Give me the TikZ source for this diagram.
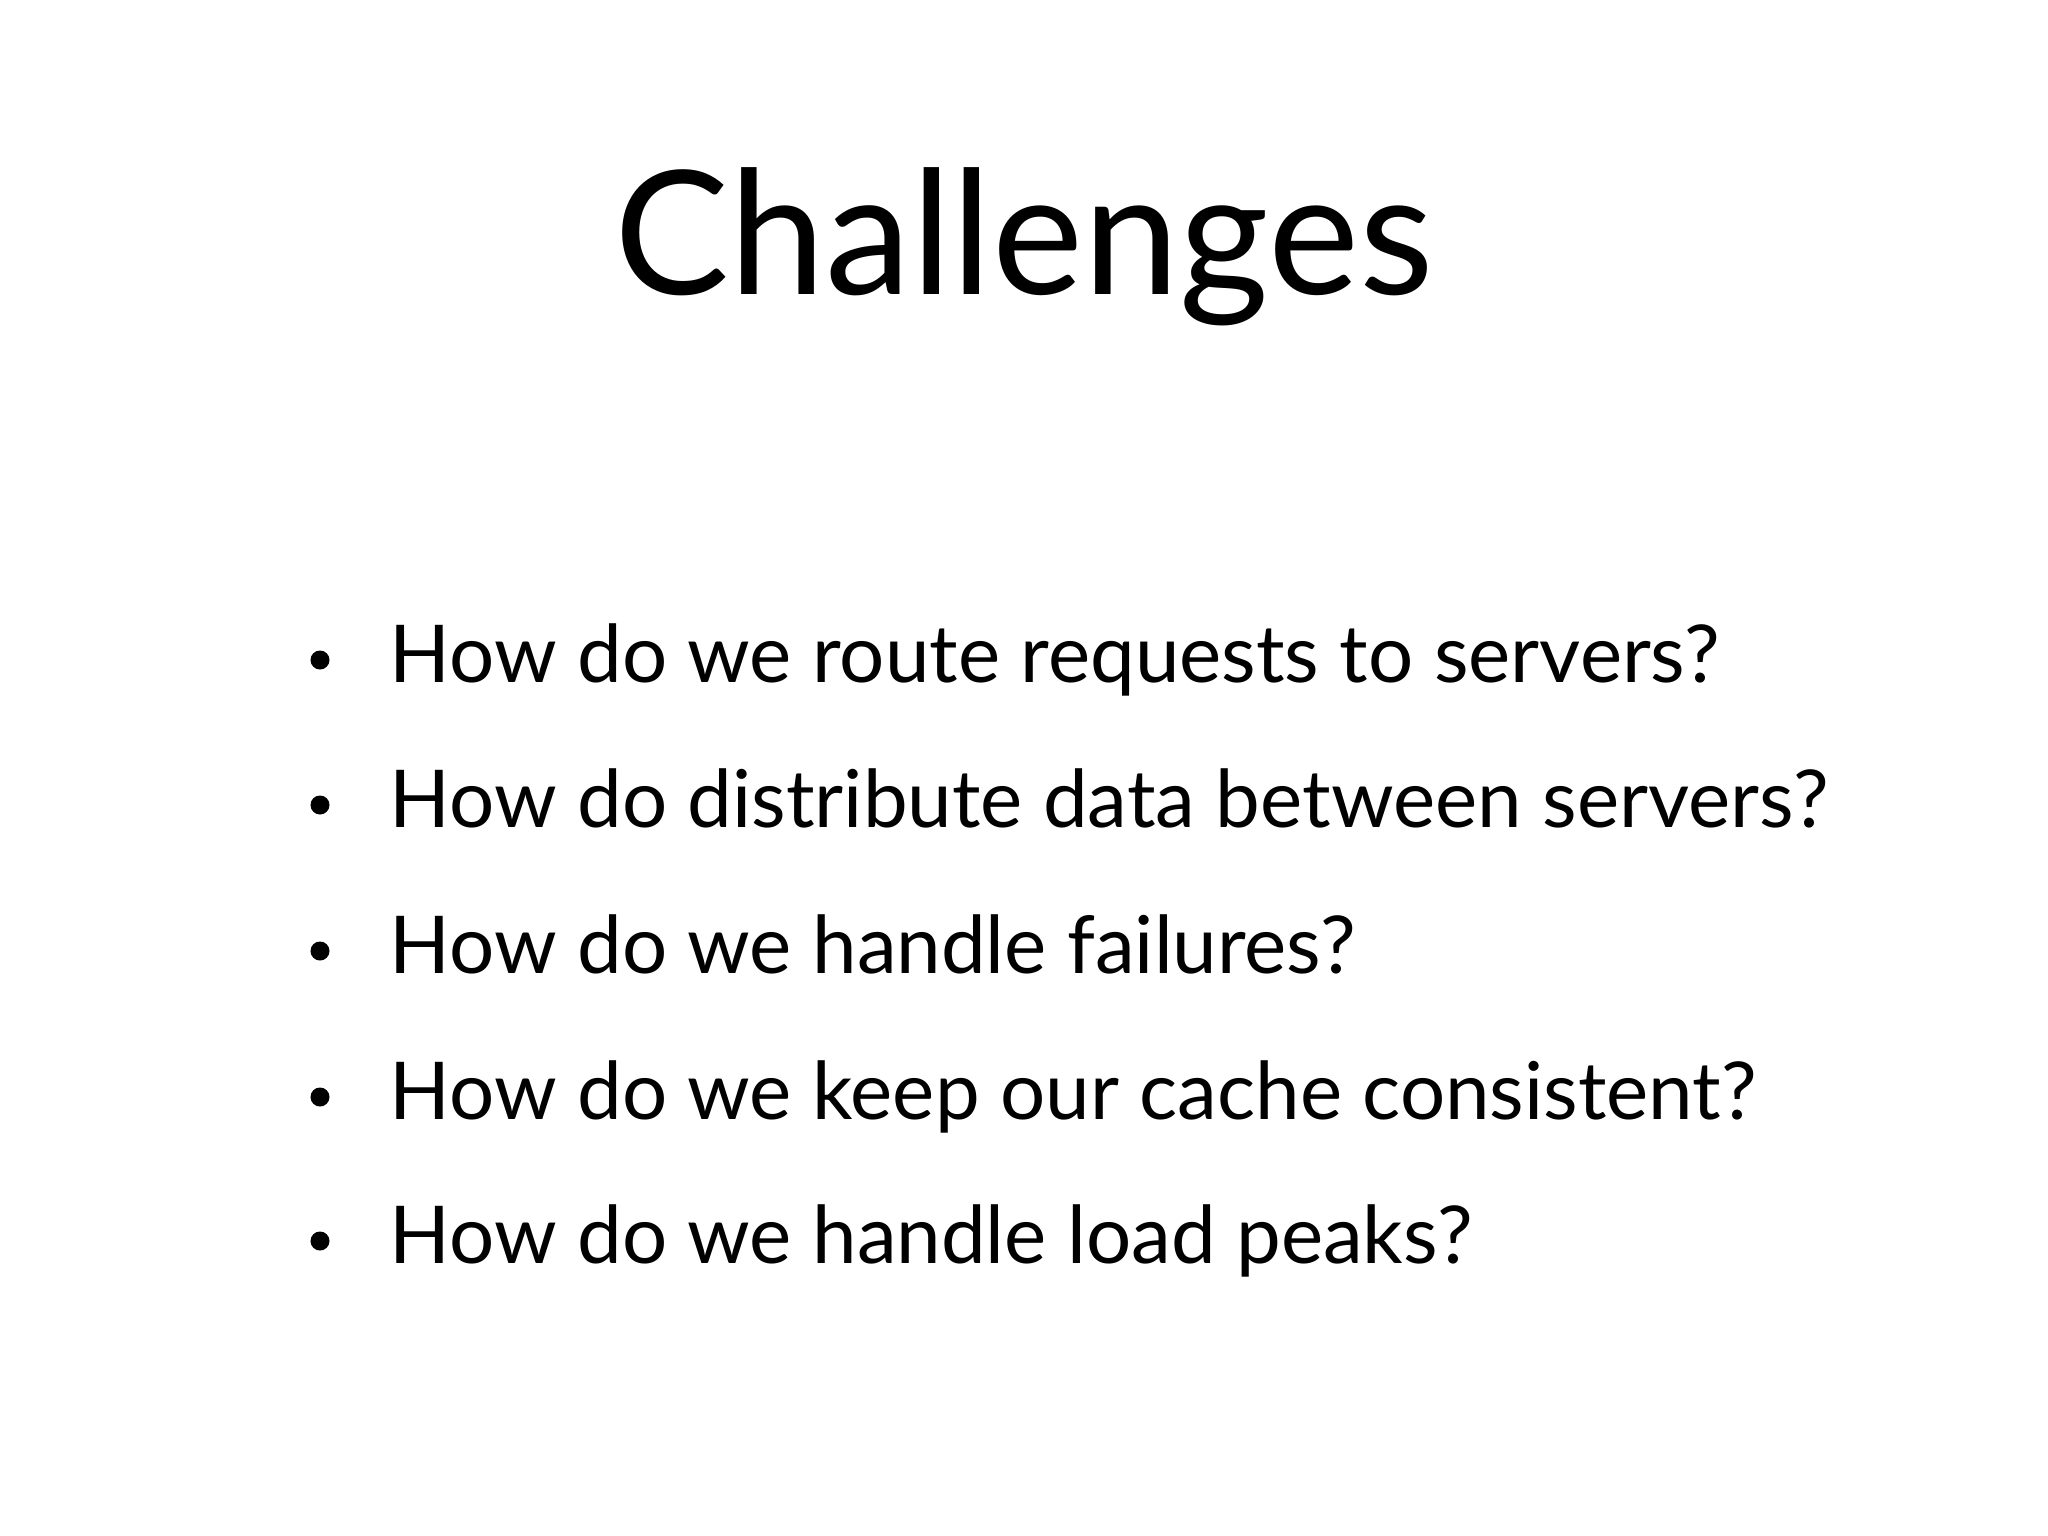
\documentclass[tikz,border=0pt]{standalone}
\usepackage{fontspec}
\setmainfont{Lato}
\begin{document}
\begin{tikzpicture}[x=0.01cm,y=-0.01cm,
  item/.style={anchor=base west,inner sep=0pt,font=\fontsize{22.7pt}{27pt}\selectfont},
  dot/.style={circle,fill=black,inner sep=0pt,minimum size=0.19cm}]
\useasboundingbox (0,0) rectangle (2048,1536);
\node[anchor=base,inner sep=0pt,font=\fontsize{49pt}{58pt}\selectfont] (title) at (1024,294) {Challenges};
\foreach \i/\y/\t in {1/682/How do we route requests to servers?,
  2/827/How do distribute data between servers?,
  3/973/How do we handle failures?,
  4/1119/How do we keep our cache consistent?,
  5/1263/How do we handle load peaks?}{
  \node[item] (t\i) at (389,\y) {\t};
  \node[dot] (b\i) at (320,\y-22) {};
}
\end{tikzpicture}
\end{document}
